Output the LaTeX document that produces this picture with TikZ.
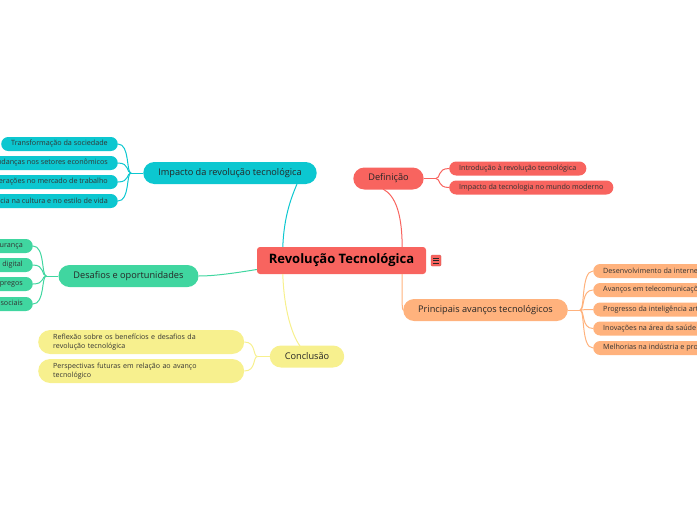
\documentclass[tikz,border=0pt]{standalone}
\usepackage{fontspec}
\setmainfont{Open Sans}
\usetikzlibrary{positioning}

\definecolor{defred}{HTML}{F8645F}
\definecolor{impcyan}{HTML}{0CC7D0}
\definecolor{desgreen}{HTML}{40D6A0}
\definecolor{conyellow}{HTML}{F7F08E}
\definecolor{avorange}{HTML}{FFB27D}

\begin{document}
\begin{tikzpicture}[x=1pt, y=-1pt,
    topic/.style={rounded corners=11pt, minimum height=22pt, inner xsep=15pt,
                  inner ysep=0pt, font=\fontsize{9.2}{11}\selectfont, text=black!85},
    sub/.style={rounded corners=7pt, minimum height=14pt, inner xsep=10pt,
                inner ysep=0pt, font=\fontsize{7.2}{8}\selectfont, text=black!80},
    longsub/.style={rounded corners=12pt, minimum height=24pt, inner xsep=15pt,
                    inner ysep=0pt, text width=176pt, align=left,
                    font=\fontsize{7.1}{9}\selectfont, text=black!80},
    link/.style={line width=1pt}]

  \useasboundingbox (0,0) rectangle (697,520);
  \clip (0,0) rectangle (697,520);

  % main topic
  \node[fill=defred, rounded corners=3pt, minimum width=169pt, minimum height=27pt,
        inner sep=0pt, font=\fontsize{13}{15}\selectfont\bfseries] (root) at (341.5,260.5)
    {Revolução Tecnológica};
  \node[fill=defred, draw=defred!80!black, line width=0.3pt, rounded corners=1pt,
        minimum width=10pt, minimum height=11pt, inner sep=0pt] (menu) at (436,260.5) {};
  \foreach \d in {-2.5,0,2.5}
    \draw[black!85, line width=0.6pt] ([xshift=-2.8pt,yshift=\d pt]menu.center) -- ++(5.6,0);

  % branches
  \node[topic, fill=impcyan]    (impacto)   at (230,173)    {Impacto da revolução tecnológica};
  \node[topic, fill=defred]     (definicao) at (388.5,178.5) {Definição};
  \node[topic, fill=desgreen]   (desafios)  at (128.5,276)  {Desafios e oportunidades};
  \node[topic, fill=conyellow]  (conclusao) at (307,356.5)  {Conclusão};
  \node[topic, fill=avorange]   (avancos)   at (485.5,310)  {Principais avanços tecnológicos};

  \draw[link, impcyan] (root.north west) ++(26,0) coordinate (r1)
    .. controls (284,215) and (292,196) .. (297,184) coordinate (i1);
  \draw[link, defred] (root.north east) ++(-24,0) coordinate (r2)
    .. controls (402,215) and (396,196) .. (383,189) coordinate (d1);
  \draw[link, desgreen] (root.west) ++(0,9) coordinate (r3)
    .. controls (235,273) and (215,276) .. (desafios.east);
  \draw[link, conyellow] (root.south west) ++(26,0) coordinate (r4)
    .. controls (284,310) and (292,335) .. (300,346) coordinate (c1);
  \draw[link, avorange] (root.south east) ++(-24,0) coordinate (r5)
    .. controls (402,300) and (402,310) .. (avancos.west);

  % impacto
  \node[sub, fill=impcyan, anchor=east] (imp1) at (118,144) {Transformação da sociedade};
  \node[sub, fill=impcyan, anchor=east] (imp2) at (118,163) {Mudanças nos setores econômicos};
  \node[sub, fill=impcyan, anchor=east] (imp3) at (118,182) {Alterações no mercado de trabalho};
  \node[sub, fill=impcyan, anchor=east] (imp4) at (118,201) {Influência na cultura e no estilo de vida};
  \coordinate (impj) at ([xshift=-12pt]impacto.west);
  \draw[link, impcyan] (impacto.west) -- (impj);
  \foreach \n in {imp1,imp2,imp3,imp4}
    \draw[link, impcyan] (impj) .. controls ([xshift=-5pt]impj) and ([xshift=12pt]\n.east) .. (\n.east);

  % desafios
  \node[sub, fill=desgreen, anchor=east] (des1) at (33,246) {Privacidade e segurança};
  \node[sub, fill=desgreen, anchor=east] (des2) at (33,265) {Inclusão digital};
  \node[sub, fill=desgreen, anchor=east] (des3) at (33,284) {Geração de empregos};
  \node[sub, fill=desgreen, anchor=east] (des4) at (33,304) {Impactos sociais};
  \coordinate (desj) at ([xshift=-12pt]desafios.west);
  \draw[link, desgreen] (desafios.west) -- (desj);
  \foreach \n in {des1,des2,des3,des4}
    \draw[link, desgreen] (desj) .. controls ([xshift=-5pt]desj) and ([xshift=12pt]\n.east) .. (\n.east);

  % conclusao
  \node[longsub, fill=conyellow, anchor=west] (con1) at (38,342)
    {Reflexão sobre os benefícios e desafios da\\revolução tecnológica};
  \node[longsub, fill=conyellow, anchor=west] (con2) at (38,371)
    {Perspectivas futuras em relação ao avanço\\tecnológico};
  \coordinate (conj) at ([xshift=-12pt]conclusao.west);
  \draw[link, conyellow] (conclusao.west) -- (conj);
  \foreach \n in {con1,con2}
    \draw[link, conyellow] (conj) .. controls ([xshift=-5pt]conj) and ([xshift=12pt]\n.east) .. (\n.east);

  % definicao
  \node[sub, fill=defred, anchor=west] (def1) at (449,168.5) {Introdução à revolução tecnológica};
  \node[sub, fill=defred, anchor=west] (def2) at (449,187.5) {Impacto da tecnologia no mundo moderno};
  \coordinate (defj) at ([xshift=12pt]definicao.east);
  \draw[link, defred] (definicao.east) -- (defj);
  \foreach \n in {def1,def2}
    \draw[link, defred] (defj) .. controls ([xshift=5pt]defj) and ([xshift=-12pt]\n.west) .. (\n.west);

  % avancos
  \node[sub, fill=avorange, anchor=west] (av1) at (593,271)   {Desenvolvimento da internet};
  \node[sub, fill=avorange, anchor=west] (av2) at (593,290)   {Avanços em telecomunicações};
  \node[sub, fill=avorange, anchor=west] (av3) at (593,309.5) {Progresso da inteligência artificial};
  \node[sub, fill=avorange, anchor=west] (av4) at (593,328.5) {Inovações na área da saúde};
  \node[sub, fill=avorange, anchor=west] (av5) at (593,348)   {Melhorias na indústria e produção};
  \coordinate (avj) at ([xshift=12pt]avancos.east);
  \draw[link, avorange] (avancos.east) -- (avj);
  \foreach \n in {av1,av2,av3,av4,av5}
    \draw[link, avorange] (avj) .. controls ([xshift=5pt]avj) and ([xshift=-12pt]\n.west) .. (\n.west);
\end{tikzpicture}
\end{document}
